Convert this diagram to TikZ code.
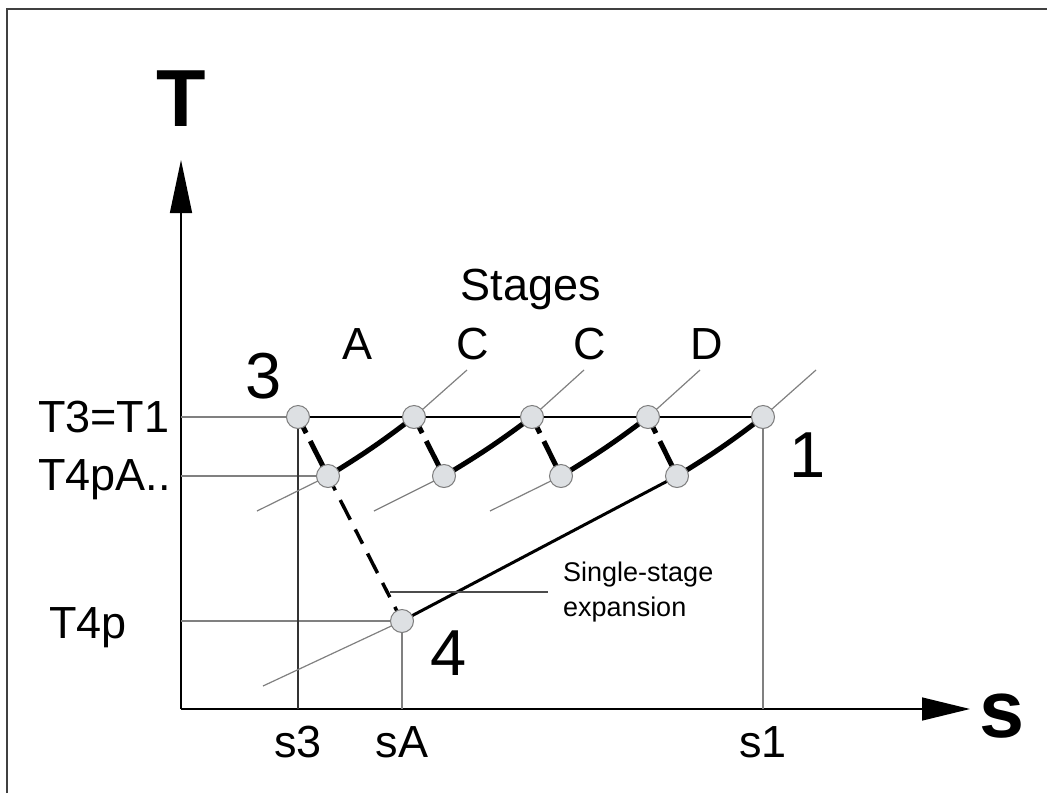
\documentclass[tikz,border=0pt]{standalone}
\usepackage{fontspec}
\setmainfont{Liberation Sans}
\usetikzlibrary{arrows.meta}
\definecolor{pointfill}{RGB}{221,224,227}
\definecolor{pointrim}{RGB}{125,125,125}
\definecolor{guidegray}{RGB}{128,128,128}

\begin{document}
\begin{tikzpicture}[x=1pt, y=-1pt,
    state/.style={circle, fill=pointfill, draw=pointrim, line width=1pt, minimum size=23pt, inner sep=0pt}, % grey state points
    guide/.style={guidegray, line width=1.2pt}, % thin grey helper lines
    heat/.style={black, line width=5pt}, % reheating between stages
    expand/.style={black, line width=5pt, dash pattern=on 18pt off 9pt on 60pt off 1pt}, % expansion in one stage
    lbl/.style={anchor=base, inner sep=0pt, font=\fontsize{45}{45}\selectfont},
    bignum/.style={anchor=base, inner sep=0pt, font=\fontsize{65}{65}\selectfont},
    axlbl/.style={anchor=base, inner sep=0pt, font=\fontsize{81}{81}\selectfont\bfseries}
]
\useasboundingbox (0,0) rectangle (1047,793);
% frame, cut off on the right and at the bottom
\draw[black!75, line width=1.5pt] (7,793) -- (7,9) -- (1047,9);

% axes
\coordinate (O) at (181,709);
\coordinate (Ttip) at (181,160);
\coordinate (stip) at (970,709);

% state points
\coordinate (p3) at (298,417);
\coordinate (b1) at (414,417);
\coordinate (b2) at (532,417);
\coordinate (b3) at (648,417);
\coordinate (p1) at (763,417);
\coordinate (pA) at (328,476);
\coordinate (a2) at (444,476);
\coordinate (a3) at (561,476);
\coordinate (a4) at (677,476);
\coordinate (p4) at (402,621);

% free ends of the isobars
\coordinate (e1) at (467,370);
\coordinate (e2) at (584,370);
\coordinate (e3) at (700,370);
\coordinate (e4) at (816,370);
\coordinate (fA) at (257,511);
\coordinate (f2) at (374,511);
\coordinate (f3) at (490,511);
\coordinate (f4) at (263,686);
\coordinate (lead) at (390,592);

\draw[black, line width=1.5pt, -{Triangle[length=53pt, width=22pt]}] (O) -- (Ttip);
\draw[black, line width=1.5pt, -{Triangle[length=48pt, width=23pt]}] (O) -- (stip);
\node[axlbl] (Tlab) at (181,126) {T};
\node[axlbl] (slab) at (1002,737) {s};

% helper lines to the axes
\draw[guide] (O |- p3) -- (p3);
\draw[black, line width=1.2pt] (p3) -- (p1);
\draw[guide] (O |- pA) -- (pA);
\draw[guide] (O |- p4) -- (p4);
\draw[black!80, line width=1.2pt] (O -| p3) -- (p3);
\draw[guide] (O -| p4) -- (p4);
\draw[guide] (O -| p1) -- (p1);

% isobars
\draw[guide] (b1) -- (e1);
\draw[guide] (b2) -- (e2);
\draw[guide] (b3) -- (e3);
\draw[guide] (p1) -- (e4);
\draw[guide] (fA) -- (pA);
\draw[guide] (f2) -- (a2);
\draw[guide] (f3) -- (a3);
\draw[guide] (f4) -- (p4);

% single-stage expansion and low pressure line
\draw[black, line width=3.5pt, dash pattern=on 16pt off 11pt on 22pt off 11pt] (pA) -- (p4);
\draw[black, line width=3pt] (p4) -- (a4);

% stages
\draw[expand] (p3) -- (pA);
\draw[expand] (b1) -- (a2);
\draw[expand] (b2) -- (a3);
\draw[expand] (b3) -- (a4);
\draw[heat] (pA) to[bend right=3] (b1);
\draw[heat] (a2) to[bend right=3] (b2);
\draw[heat] (a3) to[bend right=3] (b3);
\draw[heat] (a4) to[bend right=3] (p1);

\node[state] (n3) at (p3) {};
\node[state] (n5) at (b1) {};
\node[state] (n6) at (b2) {};
\node[state] (n7) at (b3) {};
\node[state] (n1) at (p1) {};
\node[state] (nA) at (pA) {};
\node[state] (n8) at (a2) {};
\node[state] (n9) at (a3) {};
\node[state] (n10) at (a4) {};
\node[state] (n4) at (p4) {};

% labels
\node[lbl, anchor=base west] (t31) at (38,432) {T3=T1};
\node[lbl, anchor=base west] (t4pa) at (38,490) {T4pA..};
\node[lbl, anchor=base west] (t4p) at (49,638) {T4p};
\node[lbl] (s3) at (298,757) {s3};
\node[lbl] (sA) at (402,757) {sA};
\node[lbl] (s1) at (763,757) {s1};
\node[lbl] (stages) at (531,300) {Stages};
\node[lbl] (stA) at (358,359) {A};
\node[lbl] (stC) at (473,359) {C};
\node[lbl] (stCC) at (590,359) {C};
\node[lbl] (stD) at (707,359) {D};
\node[bignum] (num3) at (264,398) {3};
\node[bignum] (num1) at (808,477) {1};
\node[bignum] (num4) at (449,675) {4};

\node[anchor=west, align=left, inner sep=0pt, inner xsep=15pt,
      font=\fontsize{27}{35}\selectfont] (single) at (548,592) {Single-stage\\expansion};
\draw[black!70, line width=1.2pt] (lead) -- (single.west);

\end{tikzpicture}
\end{document}
